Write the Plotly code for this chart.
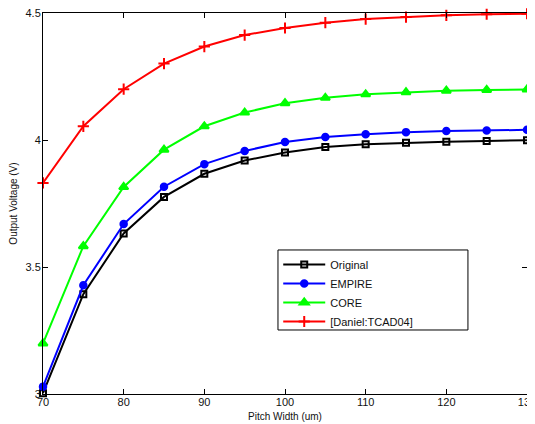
import plotly.graph_objects as go

pitch = [70, 75, 80, 85, 90, 95, 100, 105, 110, 115, 120, 125, 130]
original = [3.003, 3.393, 3.632, 3.776, 3.867, 3.919, 3.951, 3.972, 3.983, 3.989, 3.993, 3.996, 3.999]
empire = [3.029, 3.428, 3.669, 3.816, 3.905, 3.957, 3.992, 4.012, 4.023, 4.031, 4.035, 4.037, 4.040]
core = [3.199, 3.582, 3.815, 3.962, 4.054, 4.108, 4.145, 4.166, 4.180, 4.188, 4.194, 4.197, 4.199]
daniel = [3.831, 4.054, 4.200, 4.301, 4.368, 4.413, 4.441, 4.462, 4.476, 4.484, 4.491, 4.495, 4.497]

names = ["Original", "EMPIRE", "CORE", "[Daniel:TCAD04]"]
colors = ["#000000", "#0000FF", "#00FF00", "#FF0000"]
symbols = ["square-open", "circle", "triangle-up", "cross-thin"]
sizes = [6, 6.5, 8, 8]
series = [original, empire, core, daniel]

fig = go.Figure()
for nm, c, s, sz, ys in zip(names, colors, symbols, sizes, series):
    fig.add_trace(go.Scatter(
        x=pitch, y=ys, name=nm, mode="lines+markers",
        line=dict(color=c, width=2),
        marker=dict(symbol=s, size=sz, color=c, line=dict(color=c, width=2)),
        cliponaxis=False,
    ))

axis_common = dict(
    showline=True, linecolor="black", linewidth=1, mirror="ticks",
    ticks="inside", ticklen=5, tickcolor="black", showgrid=False, zeroline=False,
    automargin=False, ticklabeloverflow="allow",
    tickfont=dict(family="Liberation Sans, Arial", size=11, color="#111"),
)
# page body has an 8px margin, so the figure is 527x416 placed at (8, 8)
fig.update_layout(
    width=527, height=416,
    margin=dict(l=35, r=8, t=5, b=30),
    plot_bgcolor="white", paper_bgcolor="white",
    font=dict(family="Liberation Sans, Arial", size=11, color="#111"),
    xaxis=dict(range=[70, 130], tickvals=[70, 80, 90, 100, 110, 120, 130],
               ticklabelstandoff=-2,
               title=dict(text="Pitch Width (um)", font=dict(size=10), standoff=5), **axis_common),
    yaxis=dict(range=[3, 4.5], tickvals=[3, 3.5, 4, 4.5], ticktext=["3", "3.5", "4", "4.5"],
               ticklabelstandoff=-1,
               title=dict(text="Output Voltage (V)", font=dict(size=10), standoff=12), **axis_common),
    showlegend=True,
    legend=dict(x=0.486, y=0.378, xanchor="left", yanchor="top",
                borderwidth=0, bgcolor="rgba(0,0,0,0)", itemwidth=42,
                font=dict(size=11, color="#111"), tracegroupgap=0),
    shapes=[dict(type="rect", xref="paper", yref="paper",
                 x0=0.4855, x1=0.878, y0=0.168, y1=0.378,
                 line=dict(color="black", width=1), fillcolor="white", layer="above")],
)
fig.write_html("out.html")
